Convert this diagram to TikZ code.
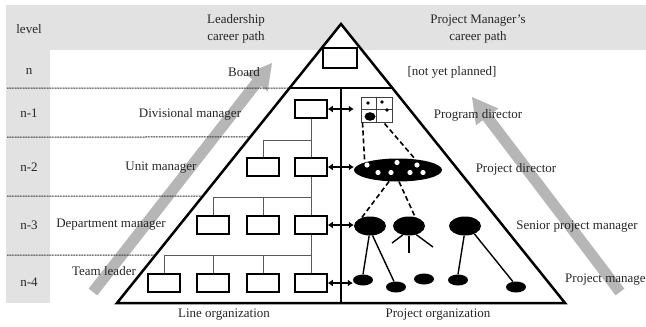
\documentclass[tikz,border=0pt]{standalone}
\usepackage{fontspec}
\setmainfont{Liberation Serif}
\usetikzlibrary{calc,arrows.meta,shapes.geometric}
\definecolor{hdrgray}{RGB}{226,226,226}
\definecolor{arrgray}{RGB}{182,182,182}
\begin{document}
\begin{tikzpicture}[x=1pt,y=-1pt,
  font=\fontsize{13}{17}\selectfont,
  lbl/.style={inner sep=0pt, text=black!85, align=center},
  obox/.style={draw=black, line width=1.5pt, fill=white, minimum width=32pt, minimum height=18pt, inner sep=0pt},
  tree/.style={draw=black!65, line width=1pt},
  sep/.style={draw=black!80, line width=1pt, dash pattern=on 1pt off 0.6pt},
  dline/.style={draw=black, line width=1.6pt, dash pattern=on 5pt off 3pt},
  sline/.style={draw=black, line width=1.4pt},
  blob/.style={ellipse, fill=black, inner sep=0pt},
  bigblob/.style={blob, minimum width=32pt, minimum height=19pt},
  smallblob/.style={blob, minimum width=20pt, minimum height=11pt},
  dblarrow/.style={draw=black, line width=1.7pt, {Latex[length=5pt,width=7pt]}-{Latex[length=5pt,width=7pt]}},
]
\useasboundingbox (0,0) rectangle (646,327);
% backgrounds
\fill[hdrgray] (6,5) rectangle (646,50);
\fill[hdrgray] (6,50) rectangle (50,303);

% gray career arrows
\coordinate (LT) at (93,292); \coordinate (LH) at (272,63);
\coordinate (LB) at ($(LH)!25pt!(LT)$);
\fill[arrgray] ($(LT)!5.5pt!90:(LH)$) -- ($(LB)!5.5pt!-90:(LT)$) -- ($(LB)!14pt!-90:(LT)$) -- (LH)
  -- ($(LB)!14pt!90:(LT)$) -- ($(LB)!5.5pt!90:(LT)$) -- ($(LT)!5.5pt!-90:(LH)$) -- cycle;
\coordinate (RT) at (620,292); \coordinate (RH) at (472,97);
\coordinate (RB) at ($(RH)!25pt!(RT)$);
\fill[arrgray] ($(RT)!5.5pt!90:(RH)$) -- ($(RB)!5.5pt!-90:(RT)$) -- ($(RB)!14pt!-90:(RT)$) -- (RH)
  -- ($(RB)!14pt!90:(RT)$) -- ($(RB)!5.5pt!90:(RT)$) -- ($(RT)!5.5pt!-90:(RH)$) -- cycle;

% triangle
\coordinate (apex) at (341,24);
\coordinate (bl) at (117,303);
\coordinate (br) at (565,303);
\draw[sep] (7,88) -- ($(apex)!0.2294!(bl)$);
\draw[sep] (7,137) -- ($(apex)!0.4050!(bl)$);
\draw[sep] (7,196) -- ($(apex)!0.6165!(bl)$);
\draw[sep] (7,255) -- ($(apex)!0.8280!(bl)$);
\draw[line width=2.5pt, fill=white, line join=miter] (apex) -- (bl) -- (br) -- cycle;
\draw[line width=1.8pt] ($(apex)!0.2294!(bl)$) -- ($(apex)!0.2294!(br)$);
\coordinate (divtop) at (341,88);
\coordinate (divbot) at (341,303);
\draw[line width=1.8pt] (divtop) -- (divbot);

% line organization boxes
\node[obox, minimum width=34pt, minimum height=20pt] (top) at (340,58) {};
\node[obox] (b1) at (311,109) {};
\node[obox] (b2a) at (263,167) {};
\node[obox] (b2b) at (311,167) {};
\node[obox] (b3a) at (213,225) {};
\node[obox] (b3b) at (263,225) {};
\node[obox] (b3c) at (311,225) {};
\node[obox] (b4a) at (164,283) {};
\node[obox] (b4b) at (213,283) {};
\node[obox] (b4c) at (263,283) {};
\node[obox] (b4d) at (311,283) {};
\coordinate (j1) at (311,140);
\coordinate (j2) at (311,197);
\coordinate (j3) at (311,255);
\draw[tree] (b1.south) -- (b2b.north);
\draw[tree] (b2a.north) |- (j1);
\draw[tree] (b2b.south) -- (b3c.north);
\draw[tree] (b3a.north) |- (j2);
\draw[tree] (b3b.north) -- (b3b.north |- j2);
\draw[tree] (b3c.south) -- (b4d.north);
\draw[tree] (b4a.north) |- (j3);
\draw[tree] (b4b.north) -- (b4b.north |- j3);
\draw[tree] (b4c.north) -- (b4c.north |- j3);

% project organization
\node[draw=black!75, line width=1pt, minimum width=31pt, minimum height=25pt, inner sep=0pt] (icon) at (376.5,109.5) {};
\draw[black!75, line width=1pt] (icon.north) -- (icon.south) (icon.west) -- (icon.east);
\fill (368,103) circle (1.8pt) (382,102) circle (1.8pt) (387,110) circle (1.8pt);
\fill (370,116.5) ellipse (5.5pt and 4.3pt);

\node[ellipse, fill=black, inner sep=0pt, minimum width=88pt, minimum height=23pt] (pd) at (398,170) {};
\foreach \p in {(367,165),(378,172.5),(391,172.5),(397,162.5),(410,172.5),(417,165),(423,172.5)}
  \fill[white] \p circle (2.6pt);

\node[bigblob] (e1) at (370,226) {};
\node[bigblob] (e2) at (409,226) {};
\node[bigblob] (e3) at (465,226) {};
\node[smallblob] (s1) at (363,280) {};
\node[smallblob] (s2) at (396,287) {};
\node[smallblob] (s3) at (424,279) {};
\node[smallblob] (s4) at (458,280) {};
\node[smallblob] (s5) at (516,287) {};

\draw[dline] ([xshift=2pt]icon.south west) -- (pd.167);
\draw[dline] ([xshift=-8pt,yshift=-1pt]icon.south east) -- (pd.32);
\draw[dline] (pd.232) -- (e1.135);
\draw[dline] (pd.275) -- ([yshift=-4pt]e2.45);

\coordinate (g1) at (392,243);
\coordinate (g2) at (409,253);
\coordinate (g3) at (433,247);
\draw[sline] (e2.235) -- (g1);
\draw[sline] (e2.270) -- (g2);
\draw[sline] (e2.310) -- (g3);
\draw[sline] (e1.265) -- (s1.north);
\draw[sline] (e1.285) -- (s2.110);
\draw[sline] (e3.265) -- (s4.north);
\draw[sline] (e3.320) -- (s5.120);

% double arrows
\draw[dblarrow] (b1.east) -- ++(26,0);
\draw[dblarrow] (b2b.east) -- (b2b.east -| pd.west);
\draw[dblarrow] (b3c.east) -- (b3c.east -| e1.west);
\draw[dblarrow] (b4d.east) -- (b4d.east -| s1.west);

% texts
\node[lbl] (tlevel) at (29,29) {level};
\node[lbl] (tn) at (29,71) {n};
\node[lbl] (tn1) at (29,113) {n-1};
\node[lbl] (tn2) at (29,167) {n-2};
\node[lbl] (tn3) at (29,225) {n-3};
\node[lbl] (tn4) at (29,282) {n-4};
\node[lbl] (hlead) at (236,29) {Leadership\\career path};
\node[lbl] (hpm) at (478,29) {Project Manager's\\career path};
\node[lbl] (board) at (244,72) {Board};
\node[lbl] (nyp) at (452,72) {[not yet planned]};
\node[lbl] (divm) at (190,114) {Divisional manager};
\node[lbl] (progd) at (478,115) {Program director};
\node[lbl] (unitm) at (161,168) {Unit manager};
\node[lbl] (projd) at (516,169) {Project director};
\node[lbl] (deptm) at (111,225) {Department manager};
\node[lbl] (spm) at (577,227) {Senior project manager};
\node[lbl] (teaml) at (104,271) {Team leader};
\node[lbl, anchor=west] (pm) at (565,280) {Project manage};
\node[lbl] (lineorg) at (224,315) {Line organization};
\node[lbl] (projorg) at (438,315) {Project organization};
\end{tikzpicture}
\end{document}
